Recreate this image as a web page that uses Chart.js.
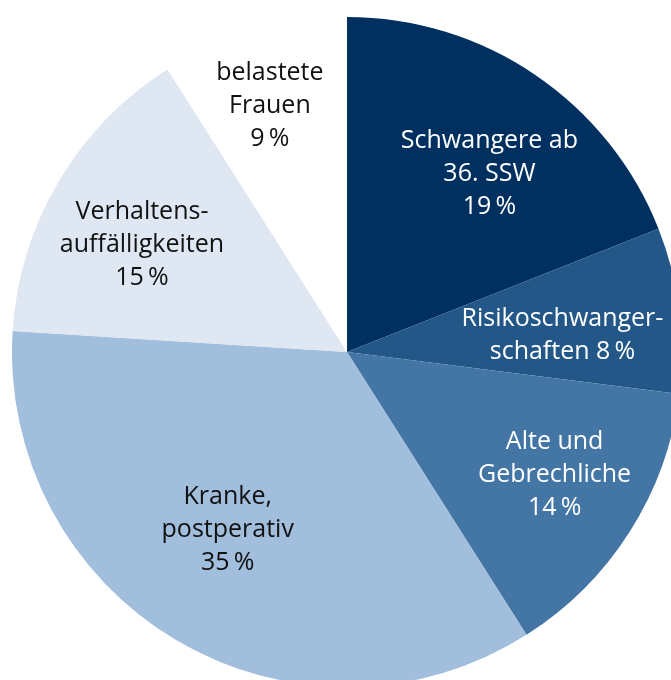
<!DOCTYPE html>
<html lang="de">
<head>
<meta charset="utf-8">
<title>Zielgruppen</title>
<script src="https://cdn.jsdelivr.net/npm/chart.js@4"></script>
<style>
  html, body { margin: 0; padding: 0; background: #fff; overflow: hidden; }
  #wrap { position: relative; width: 700px; height: 700px; }
</style>
</head>
<body>
<div id="wrap"><canvas id="pie" width="700" height="700"></canvas></div>
<script>
// === Data ===
const categories = [
  ["Schwangere ab", "36. SSW"],
  ["Risikoschwanger-", "schaften"],
  ["Alte und", "Gebrechliche"],
  ["Kranke,", "postperativ"],
  ["Verhaltens-", "auffälligkeiten"],
  ["belastete", "Frauen"]
];
const shares = [19, 8, 14, 35, 15, 9];
const sliceColors = ["#00305f", "#235787", "#4476a5", "#a1bedc", "#dfe7f2", "#ffffff"];
const textColors = ["#ffffff", "#ffffff", "#ffffff", "#111111", "#111111", "#111111"];

// label placement: fraction of radius, angle shift in degrees
const labelRadius = [0.68, 0.645, 0.72, 0.64, 0.69, 0.77];
const labelShift = [4.5, 2.9, -1.8, 3.2, -3.1, -1.2];
// percent on its own line, except where it follows the last word
const inlinePercent = [false, true, false, false, false, false];

const sliceLabels = {
  id: "sliceLabels",
  afterDatasetsDraw(chart) {
    const ctx = chart.ctx;
    const meta = chart.getDatasetMeta(0);
    ctx.save();
    ctx.font = "25px 'Open Sans', sans-serif";
    ctx.textAlign = "center";
    ctx.textBaseline = "middle";
    meta.data.forEach((arc, i) => {
      const mid = (arc.startAngle + arc.endAngle) / 2 + labelShift[i] * Math.PI / 180;
      const r = arc.outerRadius * labelRadius[i];
      const x = arc.x + Math.cos(mid) * r;
      const y = arc.y + Math.sin(mid) * r;
      const pct = shares[i] + "\u2009%";
      const lines = categories[i].slice();
      if (inlinePercent[i]) lines[lines.length - 1] += " " + pct;
      else lines.push(pct);
      const lh = 33;
      const top = y - (lines.length - 1) * lh / 2;
      ctx.fillStyle = textColors[i];
      lines.forEach((t, k) => ctx.fillText(t, x, top + k * lh));
    });
    ctx.restore();
  }
};

new Chart(document.getElementById("pie"), {
  type: "pie",
  data: {
    labels: categories.map(c => c.join(" ")),
    datasets: [{
      data: shares,
      backgroundColor: sliceColors,
      borderWidth: 0
    }]
  },
  options: {
    responsive: false,
    animation: false,
    layout: { padding: { left: 12, right: 18, top: 17, bottom: 13 } },
    plugins: {
      legend: { display: false },
      tooltip: { enabled: false }
    }
  },
  plugins: [sliceLabels]
});
</script>
</body>
</html>
